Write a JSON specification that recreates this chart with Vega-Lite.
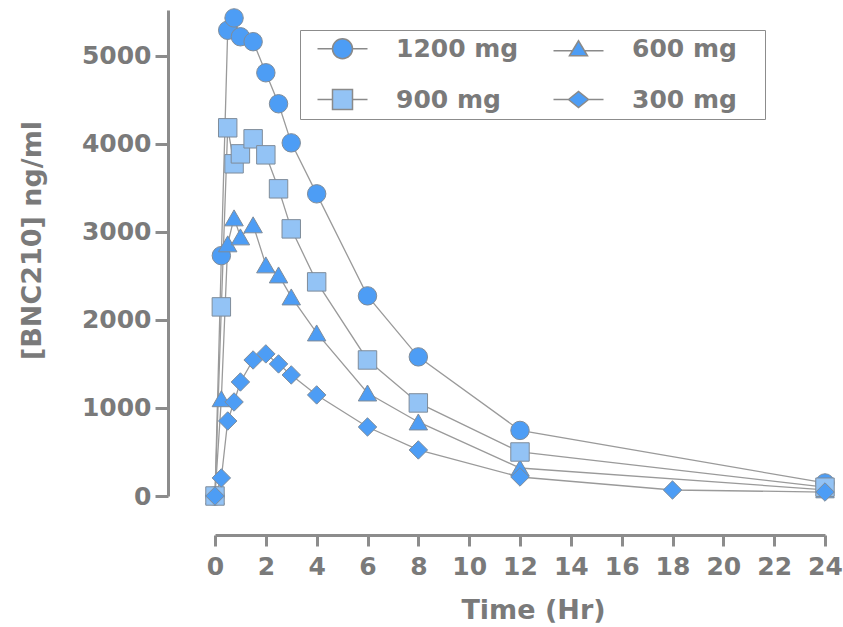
{
  "$schema": "https://vega.github.io/schema/vega-lite/v6.json",
  "width": 610,
  "height": 486,
  "autosize": {"type": "none"},
  "padding": {"left": 215, "top": 10, "right": 18, "bottom": 131},
  "background": "white",
  "data": {
    "values": [
      {"t": 0, "c": 0, "dose": "1200 mg"},
      {"t": 0.25, "c": 2730, "dose": "1200 mg"},
      {"t": 0.5, "c": 5290, "dose": "1200 mg"},
      {"t": 0.75, "c": 5430, "dose": "1200 mg"},
      {"t": 1, "c": 5216, "dose": "1200 mg"},
      {"t": 1.5, "c": 5160, "dose": "1200 mg"},
      {"t": 2, "c": 4807, "dose": "1200 mg"},
      {"t": 2.5, "c": 4455, "dose": "1200 mg"},
      {"t": 3, "c": 4011, "dose": "1200 mg"},
      {"t": 4, "c": 3432, "dose": "1200 mg"},
      {"t": 6, "c": 2273, "dose": "1200 mg"},
      {"t": 8, "c": 1580, "dose": "1200 mg"},
      {"t": 12, "c": 745, "dose": "1200 mg"},
      {"t": 24, "c": 148, "dose": "1200 mg"},
      {"t": 0, "c": 0, "dose": "600 mg"},
      {"t": 0.25, "c": 1105, "dose": "600 mg"},
      {"t": 0.5, "c": 2864, "dose": "600 mg"},
      {"t": 0.75, "c": 3159, "dose": "600 mg"},
      {"t": 1, "c": 2943, "dose": "600 mg"},
      {"t": 1.5, "c": 3080, "dose": "600 mg"},
      {"t": 2, "c": 2625, "dose": "600 mg"},
      {"t": 2.5, "c": 2511, "dose": "600 mg"},
      {"t": 3, "c": 2261, "dose": "600 mg"},
      {"t": 4, "c": 1852, "dose": "600 mg"},
      {"t": 6, "c": 1170, "dose": "600 mg"},
      {"t": 8, "c": 841, "dose": "600 mg"},
      {"t": 12, "c": 318, "dose": "600 mg"},
      {"t": 24, "c": 70, "dose": "600 mg"},
      {"t": 0, "c": 0, "dose": "900 mg"},
      {"t": 0.25, "c": 2148, "dose": "900 mg"},
      {"t": 0.5, "c": 4182, "dose": "900 mg"},
      {"t": 0.75, "c": 3773, "dose": "900 mg"},
      {"t": 1, "c": 3886, "dose": "900 mg"},
      {"t": 1.5, "c": 4057, "dose": "900 mg"},
      {"t": 2, "c": 3875, "dose": "900 mg"},
      {"t": 2.5, "c": 3489, "dose": "900 mg"},
      {"t": 3, "c": 3034, "dose": "900 mg"},
      {"t": 4, "c": 2432, "dose": "900 mg"},
      {"t": 6, "c": 1545, "dose": "900 mg"},
      {"t": 8, "c": 1057, "dose": "900 mg"},
      {"t": 12, "c": 500, "dose": "900 mg"},
      {"t": 24, "c": 100, "dose": "900 mg"},
      {"t": 0, "c": 0, "dose": "300 mg"},
      {"t": 0.25, "c": 205, "dose": "300 mg"},
      {"t": 0.5, "c": 852, "dose": "300 mg"},
      {"t": 0.75, "c": 1068, "dose": "300 mg"},
      {"t": 1, "c": 1295, "dose": "300 mg"},
      {"t": 1.5, "c": 1545, "dose": "300 mg"},
      {"t": 2, "c": 1614, "dose": "300 mg"},
      {"t": 2.5, "c": 1500, "dose": "300 mg"},
      {"t": 3, "c": 1375, "dose": "300 mg"},
      {"t": 4, "c": 1148, "dose": "300 mg"},
      {"t": 6, "c": 784, "dose": "300 mg"},
      {"t": 8, "c": 523, "dose": "300 mg"},
      {"t": 12, "c": 216, "dose": "300 mg"},
      {"t": 18, "c": 68, "dose": "300 mg"},
      {"t": 24, "c": 45, "dose": "300 mg"}
    ]
  },
  "encoding": {
    "x": {
      "field": "t", "type": "quantitative",
      "scale": {"domain": [0, 24], "nice": false},
      "axis": {
        "title": "Time (Hr)",
        "values": [0, 2, 4, 6, 8, 10, 12, 14, 16, 18, 20, 22, 24],
        "offset": 39, "tickSize": 11, "labelPadding": 8,
        "titleFontSize": 27, "titleX": 318, "titleY": 62
      }
    },
    "y": {
      "field": "c", "type": "quantitative",
      "scale": {"domain": [0, 5520], "nice": false},
      "axis": {
        "title": "[BNC210] ng/ml",
        "format": "d",
        "values": [0, 1000, 2000, 3000, 4000, 5000],
        "offset": 47, "tickSize": 13, "labelPadding": 4,
        "titleFontSize": 27, "titleX": -122, "titleY": 230
      }
    }
  },
  "layer": [
    {
      "mark": {"type": "line", "stroke": "#9a9a9a", "strokeWidth": 1.3},
      "encoding": {"detail": {"field": "dose"}}
    },
    {
      "transform": [{"filter": "false"}],
      "mark": {"type": "point", "filled": true, "size": 400, "opacity": 1, "stroke": "#8a8a8a", "strokeWidth": 1.3},
      "encoding": {
        "shape": {
          "field": "dose", "type": "nominal",
          "scale": {"domain": ["1200 mg", "900 mg", "600 mg", "300 mg"], "range": [
            "M-2.5,0L-1,0M1,0L2.5,0M-1,0A1,1,0,1,1,1,0A1,1,0,1,1,-1,0Z",
            "M-2.5,0L-1,0M1,0L2.5,0M-1,-1L1,-1L1,1L-1,1Z",
            "M-2.5,0.2L-0.6,0.2M0.6,0.2L2.5,0.2M-0.9,0.7L0,-0.8L0.9,0.7Z",
            "M-2.5,0L-1,0M1,0L2.5,0M-1,0L0,-0.8L1,0L0,0.8Z"
          ]},
          "legend": {
            "title": " ",
            "titleOrient": "right", "titlePadding": 22, "titleFontSize": 25,
            "orient": "none", "legendX": 85, "legendY": 20,
            "columns": 2,
            "padding": 6,
            "strokeColor": "#8c8c8c",
            "symbolSize": 400,
            "symbolOffset": 24,
            "symbolOpacity": 1,
            "labelFont": "DejaVu Sans", "labelFontWeight": "bold", "labelFontSize": 25, "labelColor": "#7a7a7a",
            "labelOffset": 41, "columnPadding": 23, "rowPadding": 24
          }
        },
        "fill": {
          "field": "dose", "type": "nominal",
          "scale": {"domain": ["1200 mg", "900 mg", "600 mg", "300 mg"], "range": ["#4d9df5", "#93c3f5", "#4d9df5", "#4d9df5"]},
          "legend": {
            "title": " ",
            "titleOrient": "right", "titlePadding": 22, "titleFontSize": 25,
            "orient": "none", "legendX": 85, "legendY": 20,
            "columns": 2,
            "padding": 6,
            "strokeColor": "#8c8c8c",
            "symbolSize": 400,
            "symbolOffset": 24,
            "symbolOpacity": 1,
            "labelFont": "DejaVu Sans", "labelFontWeight": "bold", "labelFontSize": 25, "labelColor": "#7a7a7a",
            "labelOffset": 41, "columnPadding": 23, "rowPadding": 24
          }
        }
      }
    },
    {
      "mark": {"type": "point", "filled": true, "size": 340, "opacity": 1, "stroke": "#7f8c9a", "strokeWidth": 1},
      "encoding": {
        "shape": {
          "field": "dose", "type": "nominal",
          "scale": {"domain": ["1200 mg", "900 mg", "600 mg", "300 mg"], "range": ["circle", "square", "triangle-up", "diamond"]},
          "legend": null
        },
        "fill": {
          "field": "dose", "type": "nominal",
          "scale": {"domain": ["1200 mg", "900 mg", "600 mg", "300 mg"], "range": ["#4d9df5", "#93c3f5", "#4d9df5", "#4d9df5"]},
          "legend": null
        }
      }
    }
  ],
  "resolve": {"scale": {"shape": "independent", "fill": "independent"}},
  "config": {
    "view": {"stroke": null},
    "axis": {
      "grid": false,
      "domainColor": "#8c8c8c", "domainWidth": 3,
      "tickColor": "#8c8c8c", "tickWidth": 3,
      "labelFont": "DejaVu Sans", "labelFontWeight": "bold", "labelFontSize": 25, "labelColor": "#7a7a7a",
      "titleFont": "DejaVu Sans", "titleFontWeight": "bold", "titleColor": "#7a7a7a",
      "labelFlush": false, "labelOverlap": false, "labelBound": false
    }
  }
}
